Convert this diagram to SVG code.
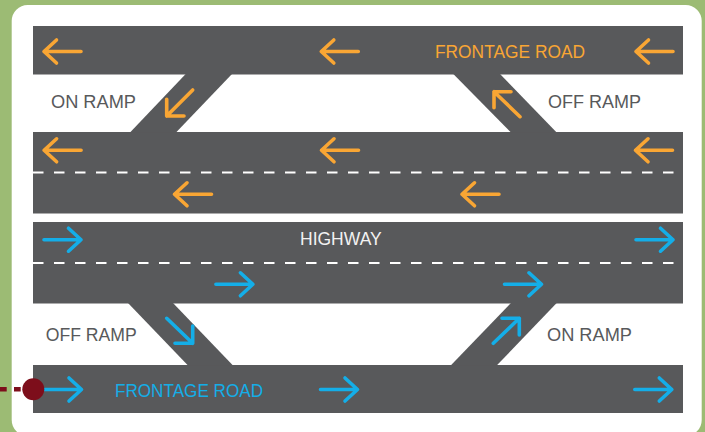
<svg xmlns="http://www.w3.org/2000/svg" xmlns:xlink="http://www.w3.org/1999/xlink" width="705" height="432" viewBox="0 0 705 432">
<style>
.road{fill:#58595b}
.dash{stroke:#ffffff;stroke-width:2;stroke-dasharray:10.5 10.5;fill:none}
.or{stroke:#f9a634;stroke-width:3.6;stroke-linecap:round;stroke-linejoin:round;fill:none}
.bl{stroke:#14aee8;stroke-width:3.6;stroke-linecap:round;stroke-linejoin:round;fill:none}
.lbl{font-family:"Liberation Sans",Arial,sans-serif;font-size:17.5px;fill:#58595b}
.t{font-family:"Liberation Sans",Arial,sans-serif;font-size:18px}
</style>
<defs>
<path id="al" d="M18.5,0H-18.5M-6,-11.5L-18.5,0L-6,11.5"/>
<path id="ar" d="M-18.5,0H18.5M6,-11.5L18.5,0L6,11.5"/>
</defs>
<rect x="0" y="0" width="705" height="432" fill="#9cbb74"/>
<rect x="11.7" y="5" width="690" height="431" rx="16" fill="#ffffff"/>

<g id="roads">
<rect class="road" x="33" y="26" width="650" height="48.5"/>
<rect class="road" x="33" y="132" width="650" height="81.5"/>
<rect class="road" x="33" y="222" width="650" height="81.5"/>
<rect class="road" x="33" y="365" width="650" height="48"/>
<polygon class="road" points="185.7,74 232,74 176,132.5 130,132.5"/>
<polygon class="road" points="453.3,74 500,74 556.7,132.5 511,132.5"/>
<polygon class="road" points="128,303 173,303 233,365.5 188,365.5"/>
<polygon class="road" points="511,303 556.7,303 496.7,365.5 450.7,365.5"/>
<line class="dash" x1="33" y1="172.5" x2="683" y2="172.5"/>
<line class="dash" x1="33" y1="263" x2="683" y2="263"/>
</g>

<g id="arrows-west" class="or">
<use xlink:href="#al" x="62.5" y="51.5"/>
<use xlink:href="#al" x="339.8" y="51.5"/>
<use xlink:href="#al" x="654.5" y="51.5"/>
<use xlink:href="#al" x="62.6" y="150.3"/>
<use xlink:href="#al" x="340" y="150.3"/>
<use xlink:href="#al" x="654" y="150.3"/>
<use xlink:href="#al" x="193" y="194.3"/>
<use xlink:href="#al" x="480.5" y="194.3"/>
<path d="M192.7,90L166.7,116M184,116H166.7V99.3"/>
<path d="M520,116.7L494,91.7M511,91.7H494V107.7"/>
</g>

<g id="arrows-east" class="bl">
<use xlink:href="#ar" x="62.5" y="239.7"/>
<use xlink:href="#ar" x="654.5" y="239.7"/>
<use xlink:href="#ar" x="234.4" y="284.3"/>
<use xlink:href="#ar" x="523" y="284.3"/>
<use xlink:href="#ar" x="63" y="389.5"/>
<use xlink:href="#ar" x="339" y="389.5"/>
<use xlink:href="#ar" x="653.3" y="389.5"/>
<path d="M166.7,318.3L192.7,343.3M192.7,326V343.3H175"/>
<path d="M493.3,343.3L519.3,318.3M502,318.3H519.3V335"/>
</g>

<g id="labels">
<text class="lbl" x="51" y="107.5" textLength="85" lengthAdjust="spacingAndGlyphs">ON RAMP</text>
<text class="lbl" x="548" y="107.5" textLength="93" lengthAdjust="spacingAndGlyphs">OFF RAMP</text>
<text class="lbl" x="45.7" y="340.7" textLength="91" lengthAdjust="spacingAndGlyphs">OFF RAMP</text>
<text class="lbl" x="547" y="340.7" textLength="85" lengthAdjust="spacingAndGlyphs">ON RAMP</text>
<text class="t" x="435" y="58.3" fill="#f9a634" textLength="150" lengthAdjust="spacingAndGlyphs">FRONTAGE ROAD</text>
<text class="t" x="115" y="396.7" fill="#14aee8" textLength="148" lengthAdjust="spacingAndGlyphs">FRONTAGE ROAD</text>
<text class="t" x="300" y="245" fill="#f2f2f2" textLength="81.7" lengthAdjust="spacingAndGlyphs">HIGHWAY</text>
</g>

<g id="connector">
<line x1="0" y1="389.3" x2="24" y2="389.3" stroke="#7d0e1b" stroke-width="4.5" stroke-dasharray="6.7 7.3"/>
<circle cx="33.3" cy="389.3" r="11" fill="#7d0e1b"/>
</g>
</svg>
